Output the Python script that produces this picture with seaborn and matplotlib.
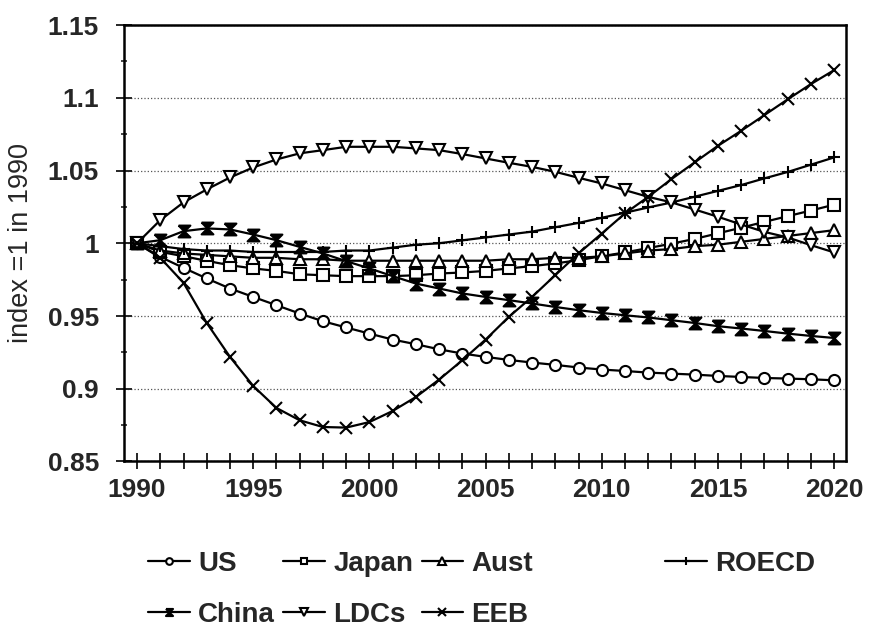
import numpy as np
import pandas as pd
import matplotlib
matplotlib.use("Agg")
import matplotlib.pyplot as plt
import seaborn as sns
from matplotlib.ticker import MultipleLocator, FormatStrFormatter

years = list(range(1990, 2021))

us = [1.0, 0.9906, 0.9831, 0.9758, 0.9689, 0.9631, 0.9574, 0.9517, 0.9464, 0.9421,
      0.9379, 0.9338, 0.9306, 0.9271, 0.9242, 0.9219, 0.9198, 0.9180, 0.9164, 0.9146,
      0.9132, 0.9122, 0.9111, 0.9104, 0.9097, 0.9088, 0.9081, 0.9074, 0.9070, 0.9065, 0.9058]
japan = [1.0, 0.9941, 0.9911, 0.9879, 0.9849, 0.9827, 0.9810, 0.9787, 0.9780, 0.9774,
         0.9774, 0.9774, 0.9780, 0.9792, 0.9799, 0.9810, 0.9827, 0.9843, 0.9861, 0.9884,
         0.9911, 0.9937, 0.9967, 0.9997, 1.0030, 1.0068, 1.0107, 1.0147, 1.0186, 1.0225, 1.0265]
aust = [1.0, 0.995, 0.993, 0.992, 0.991, 0.990, 0.990, 0.989, 0.989, 0.988,
        0.988, 0.988, 0.988, 0.988, 0.988, 0.988, 0.989, 0.989, 0.990, 0.990,
        0.991, 0.993, 0.995, 0.996, 0.998, 0.999, 1.001, 1.003, 1.005, 1.007, 1.009]
roecd = [1.0, 0.998, 0.996, 0.995, 0.995, 0.994, 0.994, 0.994, 0.994, 0.995,
         0.995, 0.997, 0.999, 1.000, 1.002, 1.004, 1.006, 1.008, 1.011, 1.014,
         1.0175, 1.021, 1.0246, 1.028, 1.032, 1.036, 1.040, 1.0446, 1.049, 1.054, 1.059]
china = [1.0, 1.0021, 1.0083, 1.0102, 1.0095, 1.0060, 1.0021, 0.9975, 0.9930, 0.9877,
         0.9827, 0.9774, 0.9723, 0.9689, 0.9655, 0.9631, 0.9609, 0.9586, 0.9562, 0.9540,
         0.9521, 0.9505, 0.9490, 0.9471, 0.9452, 0.9430, 0.9414, 0.9397, 0.9379, 0.9363, 0.9349]
ldcs = [1.0, 1.0159, 1.0281, 1.0370, 1.0452, 1.0521, 1.0576, 1.0618, 1.0640, 1.0663,
        1.0663, 1.0663, 1.0652, 1.0640, 1.0613, 1.0583, 1.0553, 1.0525, 1.0491, 1.0450,
        1.0411, 1.0365, 1.0319, 1.0281, 1.0232, 1.0182, 1.0129, 1.0078, 1.0040, 0.9987, 0.9937]
eeb = [1.0, 0.990, 0.9728, 0.9452, 0.9219, 0.9019, 0.8868, 0.8783, 0.8737, 0.8733,
       0.8771, 0.8847, 0.8943, 0.9063, 0.9196, 0.9338, 0.9494, 0.9631, 0.9781, 0.9930,
       1.0067, 1.0205, 1.0319, 1.0441, 1.0556, 1.0670, 1.0773, 1.0881, 1.0989, 1.1094, 1.1190]

names = ['US', 'Japan', 'Aust', 'ROECD', 'China', 'LDCs', 'EEB']

df = pd.DataFrame({'year': years, 'US': us, 'Japan': japan, 'Aust': aust,
                   'ROECD': roecd, 'China': china, 'LDCs': ldcs, 'EEB': eeb})
long = df.melt(id_vars='year', var_name='region', value_name='index')

sns.set_style("ticks")
plt.rcParams['font.family'] = ['Liberation Sans', 'DejaVu Sans']
plt.rcParams['font.weight'] = 'bold'

# filled hourglass for China
bowtie = [(-1, 1), (1, 1), (-1, -1), (1, -1), (-1, 1)]
marks = {
    'US': dict(marker='o', markerfacecolor='white', markersize=8),
    'Japan': dict(marker='s', markerfacecolor='white', markersize=8),
    'Aust': dict(marker='^', markerfacecolor='white', markersize=8.5),
    'ROECD': dict(marker='+', markersize=9),
    'China': dict(marker=bowtie, markerfacecolor='black', markersize=8.5),
    'LDCs': dict(marker='v', markerfacecolor='white', markersize=8.5),
    'EEB': dict(marker='x', markersize=8.5),
}

fig = plt.figure(figsize=(8.71, 6.32), dpi=100)
ax = fig.add_axes([0.1424, 0.2698, 0.8286, 0.6906])

lines = {}
for name in names:
    sub = long[long['region'] == name]
    sns.lineplot(data=sub, x='year', y='index', ax=ax, color='black', linewidth=1.6,
                 markeredgecolor='black', markeredgewidth=1.5, legend=False, **marks[name])
    lines[name] = ax.get_lines()[-1]

ax.set_xlim(1989.44, 2020.5)
ax.set_ylim(0.85, 1.15)
ax.set_xticks(years)
ax.set_xticklabels([str(y) if y % 5 == 0 else '' for y in years])
ax.yaxis.set_major_locator(MultipleLocator(0.05))
ax.yaxis.set_minor_locator(MultipleLocator(0.025))
ax.yaxis.set_major_formatter(FormatStrFormatter('%g'))
ax.tick_params(axis='x', direction='inout', length=12, width=1.4, pad=6, labelsize=19)
ax.tick_params(axis='y', which='major', direction='inout', length=12, width=1.4, pad=12, labelsize=19)
ax.tick_params(axis='y', which='minor', direction='inout', length=5, width=1.2)
ax.yaxis.grid(True, which='major', linestyle=':', color='#555555', linewidth=0.9)
for sp in ax.spines.values():
    sp.set_linewidth(1.8)
    sp.set_color('black')

ax.set_xlabel('')
ax.set_ylabel('index =1 in 1990', fontsize=19.5, fontweight='normal')
ax.yaxis.set_label_coords(-0.125, 0.5)

order = ['US', 'China', 'Japan', 'LDCs', 'Aust', 'EEB']
leg1 = fig.legend([lines[n] for n in order], order, ncol=3, loc='upper left',
                  bbox_to_anchor=(148 / 871, 1 - 551 / 632), frameon=False, fontsize=20,
                  borderpad=0, borderaxespad=0, handlelength=1.5, handletextpad=0.3,
                  columnspacing=0.3, labelspacing=0.9, markerscale=0.6)
leg2 = fig.legend([lines['ROECD']], ['ROECD'], loc='upper left',
                  bbox_to_anchor=(665 / 871, 1 - 551 / 632), frameon=False, fontsize=20,
                  borderpad=0, borderaxespad=0, handlelength=1.5, handletextpad=0.3,
                  markerscale=0.6)

fig.savefig('out.png', dpi=100)
